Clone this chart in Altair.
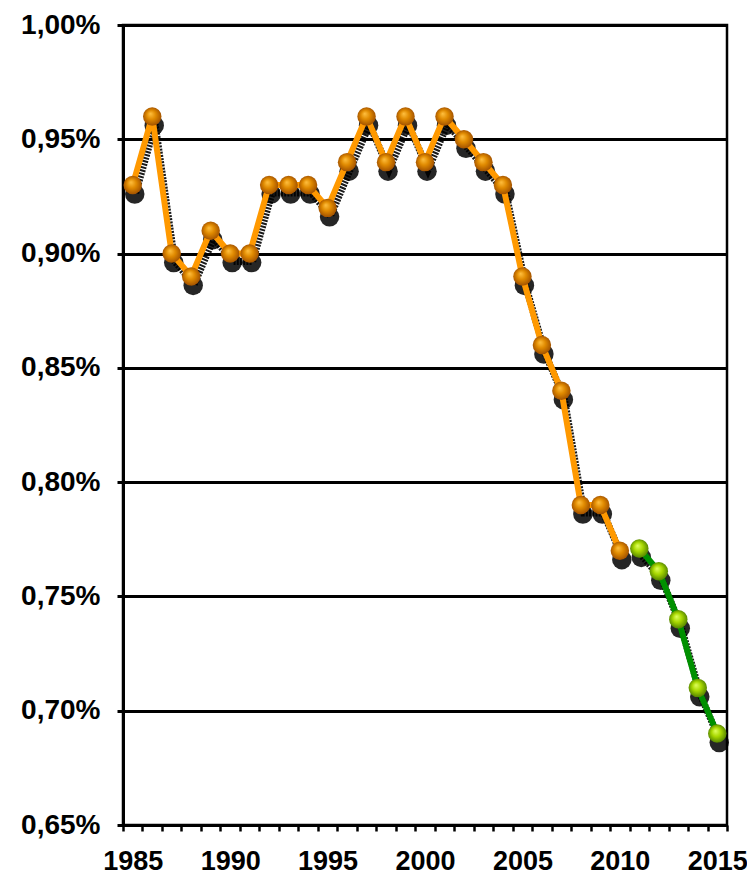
import altair as alt
import pandas as pd

orange_years = list(range(1985, 2011))
orange_vals = [0.93, 0.96, 0.90, 0.89, 0.91, 0.90, 0.90, 0.93, 0.93, 0.93,
               0.92, 0.94, 0.96, 0.94, 0.96, 0.94, 0.96, 0.95, 0.94, 0.93,
               0.89, 0.86, 0.84, 0.79, 0.79, 0.77]
green_years = [2011, 2012, 2013, 2014, 2015]
green_vals = [0.771, 0.761, 0.74, 0.71, 0.69]

y_ticks = [0.65, 0.70, 0.75, 0.80, 0.85, 0.90, 0.95, 1.00]
x_tick_bounds = [y + 0.5 for y in range(1984, 2016)]

df_o = pd.DataFrame({"year": orange_years, "v": orange_vals, "s": "o"})
df_g = pd.DataFrame({"year": green_years, "v": green_vals, "s": "g"})
df_all = pd.concat([df_o, df_g])

xscale = alt.Scale(domain=[1984.5, 2015.5], nice=False, zero=False)
yscale = alt.Scale(domain=[0.65, 1.00], nice=False, zero=False)

xaxis = alt.Axis(
    values=x_tick_bounds, grid=False, title=None,
    labelExpr="(datum.value + 0.5) % 5 == 0 ? format(datum.value + 0.5, 'd') : ''",
    labelOffset=9.74, labelFlush=False, labelOverlap=False, labelBound=False,
    tickSize=6, tickWidth=2.5, tickColor="black",
    domainColor="black", domainWidth=3,
    labelFont="Liberation Sans", labelFontWeight="bold", labelFontSize=27,
    labelColor="black", labelPadding=17)
yaxis = alt.Axis(
    values=y_ticks, grid=True, gridColor="black", gridWidth=3, gridOpacity=1,
    title=None,
    labelExpr="replace(format(datum.value, '.2f'), '.', ',') + '%'",
    tickSize=6, tickWidth=3, tickColor="black",
    domainColor="black", domainWidth=3,
    labelFont="Liberation Sans", labelFontWeight="bold", labelFontSize=28,
    labelColor="black", labelPadding=17)

xs = alt.X("year:Q", scale=xscale, axis=xaxis)
ys = alt.Y("v:Q", scale=yscale, axis=yaxis)

orange_grad = alt.RadialGradient(
    gradient="radial", x1=0.4, y1=0.35, r1=0.0, x2=0.5, y2=0.5, r2=0.55,
    stops=[alt.GradientStop(color="#ffc040", offset=0),
           alt.GradientStop(color="#e08a00", offset=0.45),
           alt.GradientStop(color="#9a4a00", offset=1)])
green_grad = alt.RadialGradient(
    gradient="radial", x1=0.4, y1=0.35, r1=0.0, x2=0.5, y2=0.5, r2=0.55,
    stops=[alt.GradientStop(color="#e0ff60", offset=0),
           alt.GradientStop(color="#a8d800", offset=0.45),
           alt.GradientStop(color="#4a7a00", offset=1)])

shadow_o_line = alt.Chart(df_o).mark_line(
    color="black", strokeWidth=7, strokeDash=[2, 1.2], opacity=0.9,
    yOffset=8, xOffset=3).encode(x=xs, y=ys)
shadow_g_line = alt.Chart(df_g).mark_line(
    color="black", strokeWidth=7, strokeDash=[2, 1.2], opacity=0.9,
    yOffset=8, xOffset=3).encode(x=xs, y=ys)
shadow_pts = alt.Chart(df_all).mark_circle(
    color="black", size=380, opacity=0.85, yOffset=9, xOffset=2).encode(x=xs, y=ys)

line_o = alt.Chart(df_o).mark_line(color="#ff9900", strokeWidth=6).encode(x=xs, y=ys)
line_g = alt.Chart(df_g).mark_line(color="#009000", strokeWidth=6).encode(x=xs, y=ys)
pts_o = alt.Chart(df_o).mark_circle(color=orange_grad, size=340, opacity=1).encode(x=xs, y=ys)
pts_g = alt.Chart(df_g).mark_circle(color=green_grad, size=340, opacity=1).encode(x=xs, y=ys)

chart = alt.layer(shadow_o_line, shadow_g_line, shadow_pts,
                  line_o, line_g, pts_o, pts_g).properties(
    width=604, height=800,
    background="white",
    autosize=alt.AutoSizeParams(type="none"),
    padding={"left": 115, "top": 17, "right": 20, "bottom": 49},
).configure_view(stroke="black", strokeWidth=2.5)

chart.save("out.html", embed_options={"renderer": "svg", "actions": False})
